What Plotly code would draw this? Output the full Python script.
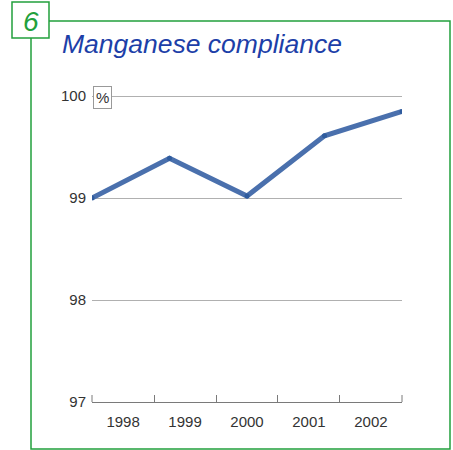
import plotly.graph_objects as go

years = ["1998", "1999", "2000", "2001", "2002"]
compliance = [99.0, 99.39, 99.02, 99.61, 99.85]
y_ticks = [97, 98, 99, 100]
y_ticktext = ["97", "98", "99", "100"]

W, H = 453, 450
L, R, T, B = 92, 51, 91, 48
pw, ph = W - L - R, H - T - B

def px(x):
    return (x - L) / pw

def py(y):
    return (H - B - y) / ph

GREEN = "#22a03c"
AXIS = "#7a7a7a"
fig = go.Figure()
fig.add_trace(go.Scatter(
    x=years, y=compliance, mode="lines+markers",
    line=dict(color="#4a70ad", width=5),
    marker=dict(color="#2f5c9e", size=5),
    xaxis="x", yaxis="y", hoverinfo="skip", showlegend=False,
))
fig.add_trace(go.Scatter(
    x=years, y=[None] * len(years), mode="markers",
    xaxis="x2", yaxis="y", showlegend=False, hoverinfo="skip",
))

fig.update_layout(
    width=W, height=H,
    margin=dict(l=L, r=R, t=T, b=B),
    paper_bgcolor="white", plot_bgcolor="white",
    font=dict(family="Liberation Sans, Arial", size=15, color="#333333"),
    xaxis=dict(type="category", range=[0, 4], visible=False, showgrid=False),
    xaxis2=dict(type="category", categoryarray=years, range=[-0.502, 4.502],
                overlaying="x", anchor="y", side="bottom",
                tickson="boundaries", ticks="inside", ticklen=7,
                tickcolor=AXIS, showline=True, linecolor=AXIS,
                linewidth=1, showgrid=False, ticklabelstandoff=6,
                tickfont=dict(size=15, color="#333333")),
    yaxis=dict(range=[97, 100.05], tickvals=y_ticks, ticktext=y_ticktext,
               showgrid=True, gridcolor="#b0b0b0", gridwidth=1,
               zeroline=False, showline=False, ticks="",
               ticklabelstandoff=5, tickfont=dict(size=15, color="#333333")),
    shapes=[
        dict(type="line", xref="paper", yref="paper", x0=0, x1=0, y0=0, y1=7 / ph,
             line=dict(color=AXIS, width=1)),
        dict(type="line", xref="paper", yref="paper", x0=1, x1=1, y0=0, y1=7 / ph,
             line=dict(color=AXIS, width=1)),
        dict(type="rect", xref="paper", yref="paper",
             x0=px(31), x1=px(450), y0=py(449), y1=py(21),
             line=dict(color=GREEN, width=1.5), fillcolor="rgba(0,0,0,0)", layer="above"),
        dict(type="rect", xref="paper", yref="paper",
             x0=px(12), x1=px(49), y0=py(38), y1=py(2),
             line=dict(color=GREEN, width=1.5), fillcolor="white", layer="above"),
    ],
    annotations=[
        dict(text="6", xref="paper", yref="paper", x=px(30.5), y=py(21),
             xanchor="center", yanchor="middle", showarrow=False,
             font=dict(family="Liberation Sans, Arial", size=28, color=GREEN, style="italic")),
        dict(text="Manganese compliance", xref="paper", yref="paper",
             x=px(60), y=py(44), xanchor="left", yanchor="middle", showarrow=False,
             font=dict(family="Liberation Sans, Arial", size=26.5, color="#1d3fa8", style="italic")),
        dict(text="%", xref="paper", yref="paper", x=px(102), y=py(97),
             xanchor="center", yanchor="middle", showarrow=False,
             bgcolor="white", bordercolor="#999999", borderwidth=1, borderpad=2,
             font=dict(family="Liberation Sans, Arial", size=15, color="#333333")),
    ],
)

fig.write_html("out.html", config={"displayModeBar": False},
               post_script="document.body.style.margin='0px';")
